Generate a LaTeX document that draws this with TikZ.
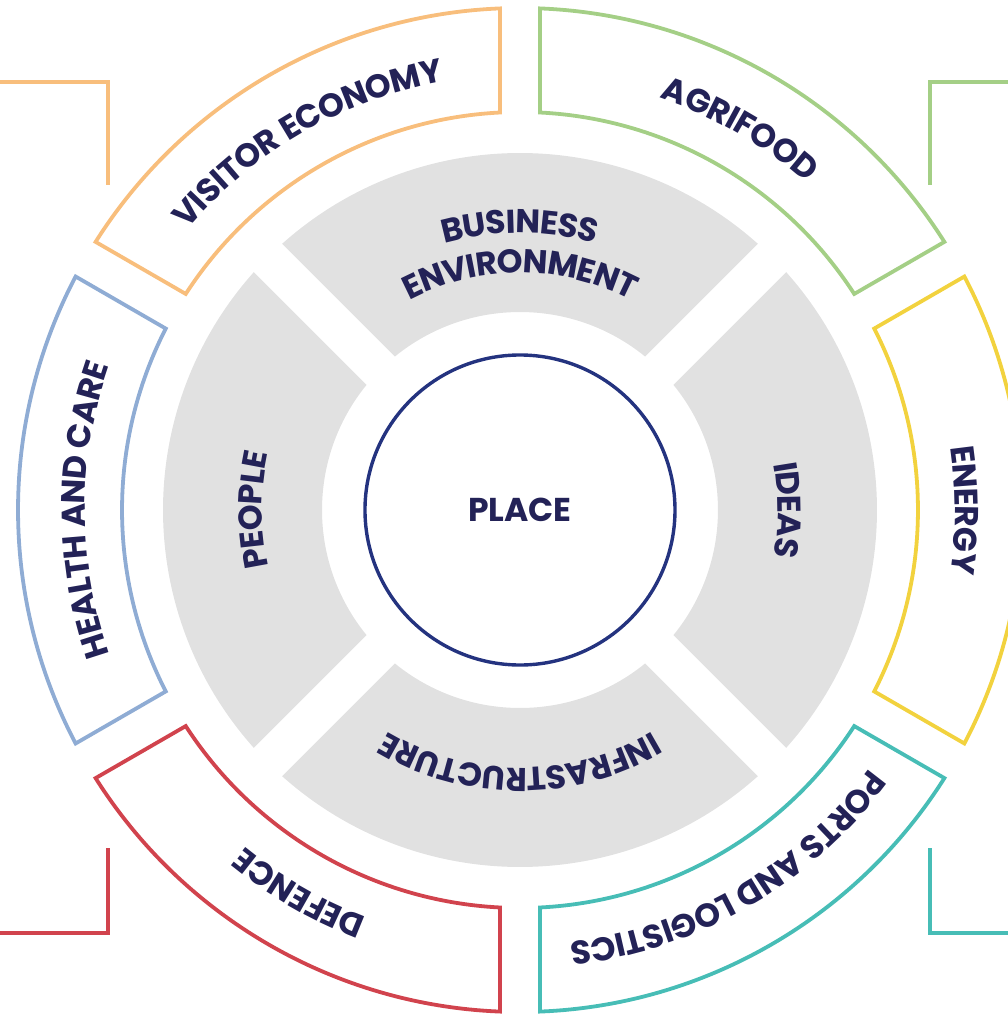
\documentclass[tikz,border=0pt]{standalone}
\usepackage{fontspec}
\setmainfont{Poppins}
\usetikzlibrary{decorations.text}

\definecolor{visorange}{HTML}{F8BE7C}
\definecolor{agrigreen}{HTML}{A4CF86}
\definecolor{energyyellow}{HTML}{F2D23E}
\definecolor{portsteal}{HTML}{47BDB6}
\definecolor{defencered}{HTML}{D1434D}
\definecolor{healthblue}{HTML}{8FACD4}
\definecolor{ringgrey}{HTML}{E1E1E1}
\definecolor{navy}{HTML}{232257}
\definecolor{placeblue}{HTML}{24337F}

\newcommand{\lblfont}{\fontsize{33}{36}\selectfont\bfseries}

\begin{document}
\begin{tikzpicture}[x=1pt,y=1pt,
  seg/.style={line width=3.8pt},
  bracket/.style={line width=3.4pt},
  lbl/.style={postaction={decorate},
    decoration={text along path, text align=center, raise=-12pt, text color=navy}}]

\useasboundingbox (-520,-505) rectangle (487,510);

% Parameters
\pgfmathsetmacro{\gap}{20}
\pgfmathsetmacro{\ro}{502}
\pgfmathsetmacro{\ri}{398}
\pgfmathsetmacro{\go}{357}
\pgfmathsetmacro{\gi}{198}
\pgfmathsetmacro{\dro}{asin(\gap/\ro)}
\pgfmathsetmacro{\dri}{asin(\gap/\ri)}
\pgfmathsetmacro{\dgo}{asin(\gap/\go)}
\pgfmathsetmacro{\dgi}{asin(\gap/\gi)}

% Centre
\coordinate (O) at (0,0);

% Grey ring
\fill[ringgrey] (45+\dgo:\go) arc (45+\dgo:135-\dgo:\go) -- (135-\dgi:\gi) arc (135-\dgi:45+\dgi:\gi) -- cycle;
\fill[ringgrey] (135+\dgo:\go) arc (135+\dgo:225-\dgo:\go) -- (225-\dgi:\gi) arc (225-\dgi:135+\dgi:\gi) -- cycle;
\fill[ringgrey] (225+\dgo:\go) arc (225+\dgo:315-\dgo:\go) -- (315-\dgi:\gi) arc (315-\dgi:225+\dgi:\gi) -- cycle;
\fill[ringgrey] (-45+\dgo:\go) arc (-45+\dgo:45-\dgo:\go) -- (45-\dgi:\gi) arc (45-\dgi:-45+\dgi:\gi) -- cycle;

% Outer ring
\draw[seg, visorange] (90+\dro:\ro) arc (90+\dro:150-\dro:\ro) -- (150-\dri:\ri) arc (150-\dri:90+\dri:\ri) -- cycle;
\draw[seg, healthblue] (150+\dro:\ro) arc (150+\dro:210-\dro:\ro) -- (210-\dri:\ri) arc (210-\dri:150+\dri:\ri) -- cycle;
\draw[seg, defencered] (210+\dro:\ro) arc (210+\dro:270-\dro:\ro) -- (270-\dri:\ri) arc (270-\dri:210+\dri:\ri) -- cycle;
\draw[seg, portsteal] (270+\dro:\ro) arc (270+\dro:330-\dro:\ro) -- (330-\dri:\ri) arc (330-\dri:270+\dri:\ri) -- cycle;
\draw[seg, energyyellow] (-30+\dro:\ro) arc (-30+\dro:30-\dro:\ro) -- (30-\dri:\ri) arc (30-\dri:-30+\dri:\ri) -- cycle;
\draw[seg, agrigreen] (30+\dro:\ro) arc (30+\dro:90-\dro:\ro) -- (90-\dri:\ri) arc (90-\dri:30+\dri:\ri) -- cycle;

% Corner brackets
\draw[bracket, visorange] (-525,428) -- (-412,428) -- (-412,325);
\draw[bracket, agrigreen] (492,428) -- (410,428) -- (410,325);
\draw[bracket, portsteal] (410,-338) -- (410,-423) -- (492,-423);
\draw[bracket, defencered] (-412,-338) -- (-412,-423) -- (-525,-423);

% Centre circle
\node[circle, draw=placeblue, line width=3.4pt, minimum size=310pt, inner sep=0pt,
  font=\lblfont, text=navy] (place) at (O) {PLACE};

% Outer labels
\path[lbl, decoration={text={|\lblfont|VISITOR ECONOMY}}] (150:447) arc (150:90:447);
\path[lbl, decoration={text={|\lblfont|AGRIFOOD}}] (90:447) arc (90:30:447);
\path[lbl, decoration={text={|\lblfont|ENERGY}}] (30:447) arc (30:-30:447);
\path[lbl, decoration={text={|\lblfont|PORTS AND LOGISTICS}}] (-30:447) arc (-30:-90:447);
\path[lbl, decoration={text={|\lblfont|DEFENCE}}] (270:447) arc (270:210:447);
\path[lbl, decoration={text={|\lblfont|HEALTH AND CARE}}] (210:447) arc (210:150:447);

% Inner labels
\path[lbl, decoration={text={|\lblfont|BUSINESS}}] (135:289) arc (135:45:289);
\path[lbl, decoration={text={|\lblfont|ENVIRONMENT}}] (135:249) arc (135:45:249);
\path[lbl, decoration={text={|\lblfont|IDEAS}}] (45:270) arc (45:-45:270);
\path[lbl, decoration={text={|\lblfont|INFRASTRUCTURE}}] (-45:270) arc (-45:-135:270);
\path[lbl, decoration={text={|\lblfont|PEOPLE}}] (225:270) arc (225:135:270);

\end{tikzpicture}
\end{document}
